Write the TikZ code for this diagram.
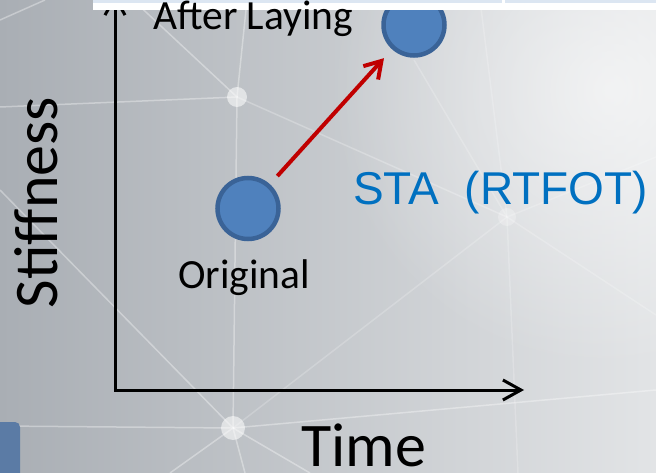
\documentclass[tikz,border=0pt]{standalone}
\usepackage{fontspec}
\setmainfont{Carlito}
\newfontfamily\arialfont{Liberation Sans}
\usetikzlibrary{arrows.meta,fadings}
\definecolor{bggray}{HTML}{A9AEB4}
\definecolor{bglight}{HTML}{E2E4E6}
\definecolor{dotfill}{HTML}{4F81BD}
\definecolor{dotline}{HTML}{3A6397}
\definecolor{arrowred}{HTML}{C00000}
\definecolor{stablue}{HTML}{0070C0}
\definecolor{bandblue}{HTML}{DCE6F2}
\definecolor{tabblue}{HTML}{5B7BA5}
\tikzfading[name=glowfade,inner color=transparent!0,outer color=transparent!100]
\begin{document}
\begin{tikzpicture}[x=1pt,y=-1pt,
    netline/.style={white,opacity=0.35,line width=1.5pt},
    netdot/.style={white,opacity=0.55},
    state/.style={circle,fill=dotfill,draw=dotline,line width=4.5pt,minimum size=61pt,inner sep=0pt},
    axistip/.tip={Straight Barb[length=18pt,width=20pt]},
    axis/.style={line width=3pt,axistip-axistip},
    bigtext/.style={inner sep=0pt,font=\fontsize{62}{70}\selectfont},
    smalltext/.style={inner sep=0pt,font=\fontsize{41.5}{50}\selectfont}]
\useasboundingbox (0,0) rectangle (656,473);

% Hintergrund
\shade[left color=bggray,right color=bglight] (0,0) rectangle (656,473);
\fill[white,path fading=glowfade,opacity=0.6] (610,90) circle (280pt);

% Netz im Hintergrund
\draw[netline] (0,107) -- (237,97) -- (233,428);
\draw[netline] (133,0) -- (237,97) -- (247,0);
\draw[netline,opacity=0.25] (237,97) -- (507,217);
\draw[netline] (0,20) -- (45,0);
\draw[netline] (0,190) -- (233,428) -- (0,426);
\draw[netline] (233,428) -- (656,390);
\draw[netline] (170,473) -- (233,428) -- (245,473);
\draw[netline] (233,428) -- (310,473);
\draw[netline,opacity=0.2] (233,428) -- (507,217);
\draw[netline,opacity=0.2] (480,0) -- (507,217) -- (518,473);
\draw[netline,opacity=0.2] (414,60) -- (507,217) -- (656,157);
\draw[netline,opacity=0.2] (507,217) -- (656,315);
\fill[netdot] (237,97) circle (10pt);
\fill[netdot] (233,428) circle (12pt);
\fill[netdot,opacity=0.25] (507,217) circle (9pt);

% Achsen
\coordinate (ytop) at (115,-6);
\coordinate (origin) at (115,390);
\coordinate (xend) at (524,390);
\draw[axis] (ytop) -- (origin) -- (xend);

% Zustaende
\node[state] (laid) at (414,25) {};
\node[state] (orig) at (248,208.5) {};
\draw[arrowred,line width=4pt,-{Straight Barb[length=16pt,width=20pt]},shorten <=11pt,shorten >=12pt] (orig) -- (laid);

% Leiste oben
\fill[white] (93,0) rectangle (656,10);
\fill[bandblue] (93,0) rectangle (502,3);
\fill[bandblue] (505,0) rectangle (656,3);

% Beschriftung
\node[smalltext,anchor=base west] (laidlabel) at (153,30) {After Laying};
\node[smalltext,anchor=base] (origlabel) at (244,288) {Original};
\node[bigtext,rotate=90,anchor=base] (ylabel) at (57,202.5) {Stiffness};
\node[bigtext,anchor=base] (xlabel) at (364,466) {Time};
\node[inner sep=0pt,anchor=base west,text=stablue,font=\arialfont\fontsize{46}{55}\selectfont] (sta) at (353,205) {STA\ \ (RTFOT)};

% Reiter unten links
\fill[tabblue,rounded corners=5pt] (-10,422) rectangle (20,490);
\end{tikzpicture}
\end{document}
